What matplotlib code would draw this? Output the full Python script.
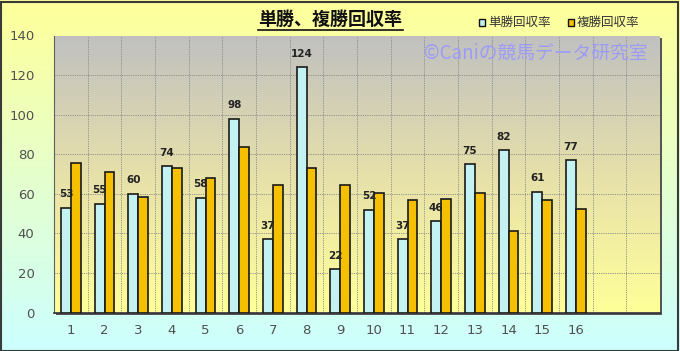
import numpy as np
import matplotlib
matplotlib.use("Agg")
import matplotlib.pyplot as plt
from matplotlib.colors import LinearSegmentedColormap
from matplotlib.patches import Rectangle

plt.rcParams['font.family'] = ['Noto Sans CJK JP', 'DejaVu Sans']

categories = list(range(1, 17))
tansho = [53, 55, 60, 74, 58, 98, 37, 124, 22, 52, 37, 46, 75, 82, 61, 77]
fukusho = [75.7, 70.8, 58.5, 73.2, 68.0, 83.8, 64.3, 73.2, 64.5, 60.5, 56.8, 57.2, 60.2, 41.2, 56.8, 52.5]
series_names = ['単勝回収率', '複勝回収率']
title = '単勝、複勝回収率'
watermark = '©Caniの競馬データ研究室'
n_slots = 18

W, H = 680, 351
fig = plt.figure(figsize=(W / 100, H / 100), dpi=100)

# figure background gradient
bg = fig.add_axes([0, 0, 1, 1], zorder=-10)
bg.set_axis_off()
cmap_bg = LinearSegmentedColormap.from_list('bg', ['#FFFF99', '#CCFFFF'])
grad = np.linspace(0, 1, 256).reshape(-1, 1)
bg.imshow(grad, cmap=cmap_bg, aspect='auto', extent=[0, 1, 0, 1], origin='upper')
bg.set_xlim(0, 1); bg.set_ylim(0, 1)
bg.add_patch(Rectangle((0.5 / W, 0.5 / H), 1 - 2.5 / W, 1 - 2.5 / H, fill=False,
                       edgecolor='#3a3a3a', lw=1.5, transform=bg.transAxes))

left, right, top, bottom = 54, 660, 35.5, 312.5
ax = fig.add_axes([left / W, (H - bottom) / H, (right - left) / W, (bottom - top) / H])
# shadow of plot area
bg.add_patch(Rectangle(((left + 2) / W, (H - bottom - 2) / H), (right - left) / W, (bottom - top) / H,
                       facecolor='#555555', edgecolor='none', transform=bg.transAxes, zorder=1))

ax.set_xlim(0.5, n_slots + 0.5)
ax.set_ylim(0, 140)
cmap_pa = LinearSegmentedColormap.from_list('pa', ['#C0C0C0', '#E6E0AA', '#FFFF99'])
ax.imshow(grad, cmap=cmap_pa, aspect='auto', extent=[0.5, n_slots + 0.5, 0, 140],
          origin='upper', zorder=0)

# grid
gkw = dict(color='#8c8c8c', lw=0.6, ls=(0, (1.5, 1.2)), zorder=1)
for y in range(20, 140, 20):
    ax.axhline(y, **gkw)
for xb in np.arange(1.5, n_slots, 1):
    ax.axvline(xb, **gkw)

x = np.array(categories)
bw = 0.29
ax.bar(x - bw / 2, tansho, width=bw, color='#C4F2F2', edgecolor='#1a1a1a', lw=1.2, zorder=3,
       label=series_names[0])
ax.bar(x + bw / 2, fukusho, width=bw, color='#F5C000', edgecolor='#1a1a1a', lw=1.2, zorder=3,
       label=series_names[1])

for xi, v in zip(x, tansho):
    ax.annotate(f'{v}', (xi - bw / 2, v), xytext=(0, 6), textcoords='offset points',
                ha='center', va='bottom', fontsize=7.5, fontweight='bold', color='#222222',
                family=['DejaVu Sans'], zorder=5)

ax.set_yticks(range(0, 141, 20))
ax.set_xticks(categories)
ax.tick_params(axis='both', length=0, labelsize=9.5, colors='#505050')
ax.tick_params(axis='x', pad=8)
ax.tick_params(axis='y', pad=14)
for lab in ax.get_yticklabels() + ax.get_xticklabels():
    lab.set_family(['DejaVu Sans'])
for s in ['top', 'right']:
    ax.spines[s].set_visible(False)
ax.spines['left'].set_color('#606060')
ax.spines['bottom'].set_color('#303030')
ax.spines['bottom'].set_linewidth(1.2)

# watermark
fig.text(536 / W, 1 - 53 / H, watermark, ha='center', va='center', fontsize=13.5,
         color='#9C9CF8', zorder=10)

# title
fig.text(330 / W, 1 - 19 / H, title, ha='center', va='center', fontsize=13,
         fontweight='bold', color='#111111')
fig.add_artist(plt.Line2D([258 / W, 403 / W], [1 - 30 / H, 1 - 30 / H], color='#111111', lw=1.2))

# legend
for i, (nm, col) in enumerate(zip(series_names, ['#C4F2F2', '#F5C000'])):
    x0 = 479 + i * 89
    bg.add_patch(Rectangle((x0 / W, 1 - 25.5 / H), 6 / W, 6 / H, facecolor=col, edgecolor='#111111',
                           lw=1.0, transform=bg.transAxes, zorder=5))
    fig.text((x0 + 9) / W, 1 - 22 / H, nm, ha='left', va='center', fontsize=9, color='#333333')

fig.savefig('out.png', dpi=100)
